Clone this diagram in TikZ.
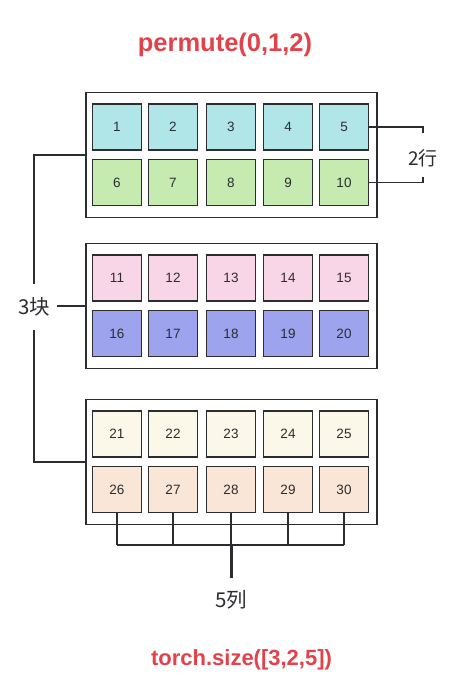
\documentclass[tikz,border=0pt]{standalone}
\usepackage{fontspec}
\setmainfont{Liberation Sans}
\newfontfamily\cjk{Noto Sans CJK SC}
\usepackage{xcolor}
\usepackage{tikz}

\definecolor{ink}{HTML}{2B2D31}
\definecolor{titlered}{HTML}{E2434B}
\definecolor{fillA}{HTML}{B0E6E8}
\definecolor{fillB}{HTML}{C6EBB0}
\definecolor{fillC}{HTML}{F8D6E7}
\definecolor{fillD}{HTML}{9DA3EC}
\definecolor{fillE}{HTML}{FBF8E9}
\definecolor{fillF}{HTML}{FAE6D6}

\tikzset{
  block/.style={draw=ink, line width=1.8, minimum width=291, minimum height=125, inner sep=0},
  cell/.style={draw=ink, line width=1.8, minimum width=49, minimum height=46, inner sep=0,
    text=ink, font=\fontsize{13.5}{16}\selectfont},
  wire/.style={draw=ink, line width=1.4},
  tag/.style={text=ink, inner sep=0, font=\cjk\fontsize{20.5}{24}\selectfont},
  heading/.style={text=titlered, font=\bfseries\fontsize{25.5}{30}\selectfont}
}

\begin{document}
\begin{tikzpicture}[x=1pt,y=-1pt]
\useasboundingbox (0,0) rectangle (473,693);

\node[heading] (title) at (225,45) {permute(0,1,2)};
\node[heading, font=\bfseries\fontsize{22}{26}\selectfont] (shape) at (241.5,660) {torch.size([3,2,5])};

% three blocks, two rows of five cells each
\foreach \b/\y/\ca/\cb in {1/155/fillA/fillB, 2/306/fillC/fillD, 3/462/fillE/fillF} {
\node[block] (b\b) at (231.5,\y) {};
\foreach \i/\x in {1/117,2/173,3/231,4/288,5/344} {
\pgfmathtruncatemacro{\na}{(\b-1)*10+\i}
\pgfmathtruncatemacro{\nb}{(\b-1)*10+\i+5}
\node[cell, fill=\ca] (c\na) at (\x,\y-28) {\na};
\node[cell, fill=\cb] (c\nb) at (\x,\y+27.5) {\nb};
}
}

% 2 rows
\node[tag, font=\cjk\fontsize{19}{22}\selectfont] (rows) at (423,158) {2行};
\draw[wire] (c5.east) -- (c5.east -| rows) -- ++(0,6);
\draw[wire] (c10.east) -- (c10.east -| rows) -- ++(0,-6);

% 3 blocks
\node[tag, inner xsep=7, minimum height=46] (blocks) at (34,307) {3块};
\draw[wire] (b1.west) -- (b1.west -| blocks) -- (blocks.north);
\draw[wire] (b3.west) -- (b3.west -| blocks) -- (blocks.south);
\draw[wire] (blocks.east |- b2.west) -- (b2.west);

% 5 columns
\coordinate (bus) at (231,545);
\node[tag] (cols) at (231,600) {5列};
\foreach \i in {26,...,30} {
\draw[wire] (c\i.south) -- (c\i.south |- bus);
}
\draw[wire] (c26.south |- bus) -- (c30.south |- bus);
\draw[wire, line width=3] (bus) -- ([yshift=12]cols.north);
\end{tikzpicture}
\end{document}
